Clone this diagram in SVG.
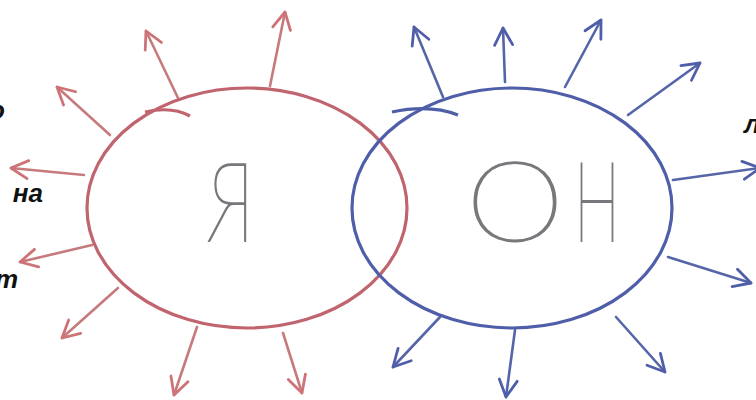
<svg xmlns="http://www.w3.org/2000/svg" width="756" height="400" viewBox="0 0 756 400">
<defs>
<style>
.red{stroke:#c0646e;fill:none;stroke-width:3.2}
.blue{stroke:#4f5ea8;fill:none;stroke-width:3.2}
.ra{stroke:#c77a7c;fill:none;stroke-width:2.6;stroke-linecap:round;marker-end:url(#hr)}
.ba{stroke:#5565a8;fill:none;stroke-width:2.6;stroke-linecap:round;marker-end:url(#hb)}
.big{font-family:Lato,"Liberation Sans",sans-serif;font-weight:200;fill:#77777c;stroke:#77777c;stroke-width:1.8;font-size:110px}
.lab{font-family:"Liberation Sans",Arial,sans-serif;font-weight:bold;font-style:italic;fill:#111;font-size:26px}
</style>
<marker id="hr" viewBox="-20 -12 22 24" markerWidth="22" markerHeight="24" refX="0" refY="0" orient="auto" markerUnits="userSpaceOnUse">
<path d="M-17,-9 L0,0 L-17,9" fill="none" stroke="#cd7378" stroke-width="2.8" stroke-linecap="round" stroke-linejoin="round"/>
</marker>
<marker id="hb" viewBox="-20 -12 22 24" markerWidth="22" markerHeight="24" refX="0" refY="0" orient="auto" markerUnits="userSpaceOnUse">
<path d="M-17,-9 L0,0 L-17,9" fill="none" stroke="#4f5ea8" stroke-width="2.8" stroke-linecap="round" stroke-linejoin="round"/>
</marker>
</defs>
<rect width="756" height="400" fill="#ffffff"/>
<g id="connectors">
<line class="ra" x1="110" y1="135" x2="57" y2="87"/>
<line class="ra" x1="178" y1="98" x2="146" y2="31"/>
<line class="ra" x1="270" y1="86" x2="285" y2="12"/>
<line class="ra" x1="84" y1="175" x2="11" y2="168"/>
<line class="ra" x1="92" y1="245" x2="20" y2="262"/>
<line class="ra" x1="118" y1="288" x2="62" y2="338"/>
<line class="ra" x1="197" y1="327" x2="174" y2="395"/>
<line class="ra" x1="283" y1="333" x2="302" y2="393"/>
<line class="ba" x1="443" y1="97" x2="414" y2="27"/>
<line class="ba" x1="505" y1="82" x2="503" y2="28"/>
<line class="ba" x1="565" y1="87" x2="601" y2="20"/>
<line class="ba" x1="628" y1="115" x2="700" y2="63"/>
<line class="ba" x1="673" y1="180" x2="760" y2="168"/>
<line class="ba" x1="668" y1="257" x2="751" y2="283"/>
<line class="ba" x1="616" y1="317" x2="665" y2="372"/>
<line class="ba" x1="515" y1="330" x2="506" y2="397"/>
<line class="ba" x1="440" y1="317" x2="393" y2="367"/>
</g>
<g id="node-ya">
<ellipse class="red" cx="247" cy="208" rx="160" ry="120"/>
<path class="red" d="M145,112 Q172,106 190,116" stroke-width="2"/>
<text class="big" x="208" y="241" textLength="46" lengthAdjust="spacingAndGlyphs">Я</text>
</g>
<g id="node-on">
<ellipse class="blue" cx="512" cy="208" rx="160" ry="120"/>
<path class="blue" d="M392,112 Q430,104 458,115" stroke-width="2"/>
<text class="big" x="466" y="241"><tspan x="466" textLength="98" lengthAdjust="spacingAndGlyphs">О</tspan><tspan x="574" textLength="46" lengthAdjust="spacingAndGlyphs">Н</tspan></text>
</g>
<g id="labels">
<text class="lab" x="5" y="119" text-anchor="end">о</text>
<text class="lab" x="43" y="202" text-anchor="end">на</text>
<text class="lab" x="18" y="288" text-anchor="end">т</text>
<text class="lab" x="744" y="133">л</text>
</g>
</svg>
